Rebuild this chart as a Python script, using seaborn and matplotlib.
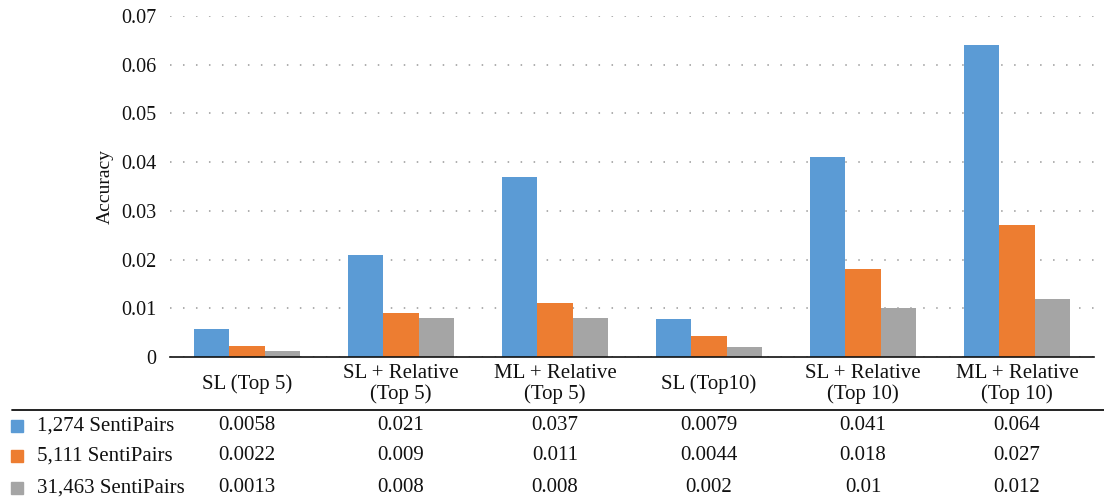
import matplotlib
matplotlib.use("Agg")
import matplotlib.pyplot as plt
import seaborn as sns
import pandas as pd
from matplotlib.lines import Line2D
from matplotlib.transforms import blended_transform_factory

categories = ["SL (Top 5)", "SL + Relative\n(Top 5)", "ML + Relative\n(Top 5)",
              "SL (Top10)", "SL + Relative\n(Top 10)", "ML + Relative\n(Top 10)"]
series_names = ["1,274 SentiPairs", "5,111 SentiPairs", "31,463 SentiPairs"]
s1 = [0.0058, 0.021, 0.037, 0.0079, 0.041, 0.064]
s2 = [0.0022, 0.009, 0.011, 0.0044, 0.018, 0.027]
s3 = [0.0013, 0.008, 0.008, 0.002, 0.01, 0.012]
s_labels = [["0.0058", "0.021", "0.037", "0.0079", "0.041", "0.064"],
            ["0.0022", "0.009", "0.011", "0.0044", "0.018", "0.027"],
            ["0.0013", "0.008", "0.008", "0.002", "0.01", "0.012"]]
colors = ["#5B9BD5", "#ED7D31", "#A5A5A5"]
yticks = [0, 0.01, 0.02, 0.03, 0.04, 0.05, 0.06, 0.07]
ytick_labels = ["0", "0.01", "0.02", "0.03", "0.04", "0.05", "0.06", "0.07"]

rows = []
for name, vals in zip(series_names, [s1, s2, s3]):
    for c, v in zip(categories, vals):
        rows.append({"category": c, "series": name, "value": v})
df = pd.DataFrame(rows)

sns.set_theme(style="white")
plt.rcParams["font.family"] = ["Liberation Serif", "DejaVu Serif"]

FS = 15
fig = plt.figure(figsize=(11.04, 5.0), dpi=100)
ax = fig.add_axes([170/1104, 1-357/500, 924/1104, 341/500])

sns.barplot(data=df, x="category", y="value", hue="series", order=categories,
            hue_order=series_names, palette=colors, width=0.69, ax=ax,
            saturation=1, legend=False, edgecolor="none", linewidth=0)

ax.set_ylim(0, 0.07)
ax.set_xlim(-0.5, len(categories) - 0.5)
ax.set_yticks(yticks)
ax.set_yticklabels(ytick_labels, fontsize=14.5, color="#111111")
ax.tick_params(axis="y", length=0, pad=10)
ax.tick_params(axis="x", length=0)
ax.set_xticklabels([])
ax.set_xlabel("")
ax.set_ylabel("Accuracy", fontsize=14, color="#111111", labelpad=5)
ax.yaxis.grid(True, linestyle=(0, (1, 7.5)), color="#999999", linewidth=1.1)
ax.set_axisbelow(True)
for sp in ["left", "right", "top"]:
    ax.spines[sp].set_visible(False)
ax.spines["bottom"].set_color("#111111")
ax.spines["bottom"].set_linewidth(1.2)

# data table below the axes
trans = blended_transform_factory(ax.transData, fig.transFigure)
for i, c in enumerate(categories):
    ax.text(i, 1 - 384/500, c, transform=trans, ha="center", va="center",
            fontsize=FS, color="#111111", linespacing=1.15)

fig.add_artist(Line2D([12/1104, 1.0], [1 - 410/500] * 2, color="#111111",
                      linewidth=1.3, transform=fig.transFigure))

row_y = [426, 456, 488]
for r, (name, labs) in enumerate(zip(series_names, s_labels)):
    yy = 1 - row_y[r] / 500
    fig.add_artist(Line2D([17/1104], [yy], marker="s", markersize=8,
                          color=colors[r], linestyle="none",
                          transform=fig.transFigure))
    fig.text(37/1104, yy, name, ha="left", va="center", fontsize=FS, color="#111111")
    for i, lab in enumerate(labs):
        ax.text(i, yy, lab, transform=trans, ha="center", va="center",
                fontsize=FS, color="#111111")

fig.savefig("out.png", dpi=100)
